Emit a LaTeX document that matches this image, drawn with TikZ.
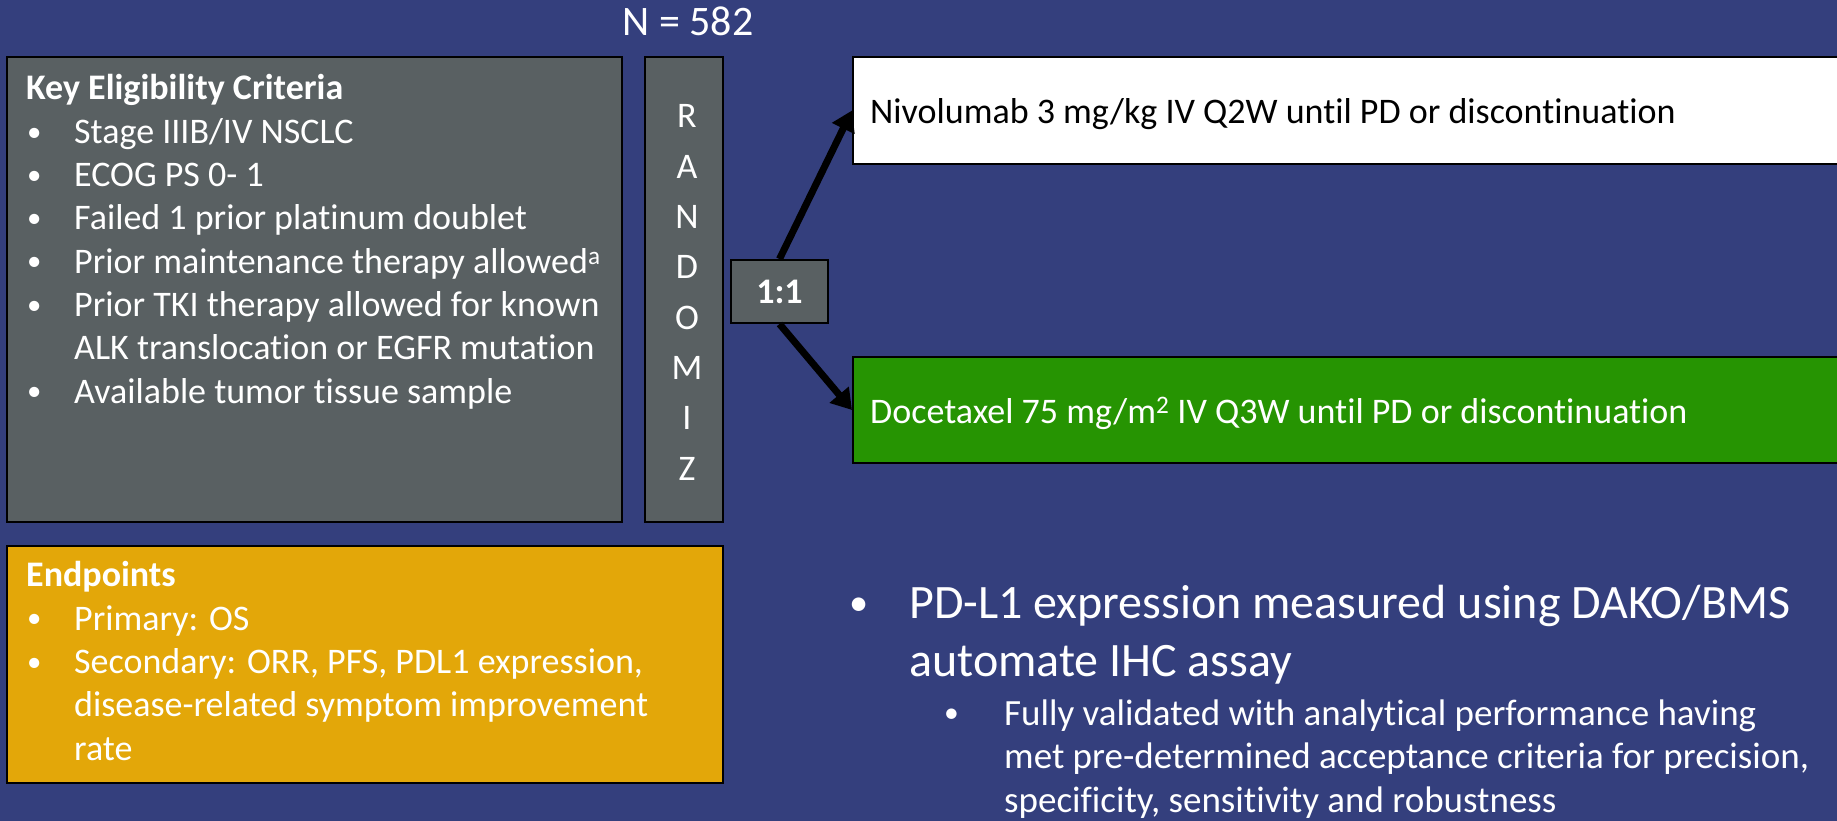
\documentclass[tikz,border=0pt]{standalone}
\usepackage{fontspec}
\usepackage{graphicx}
\setmainfont{Carlito}[Ligatures=NoCommon]
\usetikzlibrary{arrows.meta,positioning}

\definecolor{slidebg}{RGB}{52,63,125}
\definecolor{boxgrey}{RGB}{89,96,98}
\definecolor{endorange}{RGB}{227,167,9}
\definecolor{armgreen}{RGB}{38,148,2}

\tikzset{
  panel/.style={draw=black, line width=2pt, anchor=north west, inner sep=0pt},
  txt/.style={text=white, anchor=base west, inner sep=0pt, align=left},
  arm/.style={-{Triangle[length=20pt,width=24pt]}, line width=7pt, black},
}
% bullet glyph and bullet line
\newcommand{\dotb}{\raisebox{0.06em}{\scalebox{0.8}{\textbullet}}}
\newcommand{\bul}[1]{\hspace*{1pt}\makebox[47pt][l]{\dotb}#1}

\begin{document}
\begin{tikzpicture}[x=1pt,y=-1pt]
  % slide
  \fill[slidebg] (0,0) rectangle (1837,821);
  \useasboundingbox (0,0) rectangle (1837,821);
  % boxes
  \node[panel, fill=boxgrey, minimum width=615pt, minimum height=465pt] (crit) at (6,56) {};
  \node[panel, fill=boxgrey, minimum width=78pt, minimum height=465pt] (rand) at (644,56) {};
  \node[panel, fill=endorange, minimum width=716pt, minimum height=237pt] (endp) at (6,545) {};
  \node[panel, fill=white, minimum width=995pt, minimum height=107pt] (nivo) at (852,56) {};
  \node[panel, fill=armgreen, minimum width=995pt, minimum height=106pt] (doce) at (852,356) {};
  \node[draw=black, line width=2pt, fill=boxgrey, minimum width=97pt, minimum height=63pt,
        text=white, font=\fontsize{36}{43}\selectfont\bfseries] (one) at (779.5,291.5) {1:1};
  % arrows
  \draw[arm] (one.north) -- (nivo.west);
  \draw[arm] (one.south) -- (doce.west);
  % N
  \node[text=white, anchor=base, inner sep=0pt, font=\fontsize{42}{50}\selectfont] (n) at (688,36) {N = 582};
  % randomiz
  \foreach \l [count=\i from 0] in {R,A,N,D,O,M,I,Z}
    \node[text=white, anchor=base, inner sep=0pt, font=\fontsize{36}{43}\selectfont] (r\i) at (687,128+50.3*\i) {\l};
  % eligibility (base = last line)
  \node[txt, font=\fontsize{36}{43.3}\selectfont] (crittxt) at (26,403) {%
    \textbf{Key Eligibility Criteria}\\
    \bul{Stage IIIB/IV NSCLC}\\
    \bul{ECOG PS 0- 1}\\
    \bul{Failed 1 prior platinum doublet}\\
    \bul{Prior maintenance therapy allowed\textsuperscript{a}}\\
    \bul{Prior TKI therapy allowed for known}\\
    \hspace*{48pt}ALK translocation or EGFR mutation\\
    \bul{Available tumor tissue sample}};
  % endpoints
  \node[txt, font=\fontsize{36}{43.3}\selectfont] (endptxt) at (26,760) {%
    \textbf{Endpoints}\\
    \bul{Primary: OS}\\
    \bul{Secondary: ORR, PFS, PDL1 expression,}\\
    \hspace*{48pt}disease-related symptom improvement\\
    \hspace*{48pt}rate};
  % arms
  \node[txt, text=black, font=\fontsize{36}{43}\selectfont] (nivotxt) at (870,124)
    {Nivolumab 3 mg/kg IV Q2W until PD or discontinuation};
  \node[txt, font=\fontsize{36}{43}\selectfont] (docetxt) at (870,423)
    {Docetaxel 75 mg/m\textsuperscript{2} IV Q3W until PD or discontinuation};
  % assay
  \node[txt, font=\fontsize{48}{58}\selectfont] (assay) at (849,676) {%
    \makebox[60pt][l]{\dotb}PD-L1 expression measured using DAKO/BMS\\
    \hspace*{60pt}automate IHC assay};
  \node[txt, font=\fontsize{37}{43.5}\selectfont] (valid) at (944,812) {%
    \makebox[60pt][l]{\dotb}Fully validated with analytical performance having\\
    \hspace*{60pt}met pre-determined acceptance criteria for precision,\\
    \hspace*{60pt}specificity, sensitivity and robustness};
\end{tikzpicture}
\end{document}
